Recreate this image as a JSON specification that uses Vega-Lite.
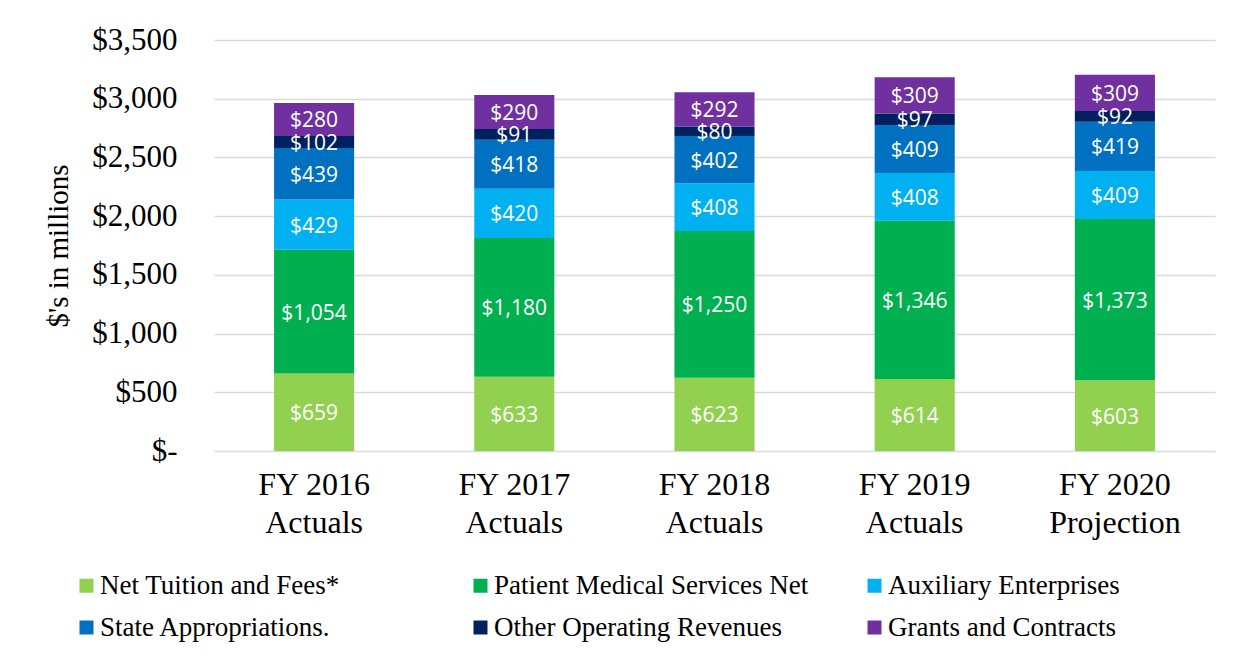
{
  "$schema": "https://vega.github.io/schema/vega-lite/v6.json",
  "autosize": "none",
  "width": 1001,
  "height": 411,
  "padding": {"left": 214, "top": 40, "right": 34, "bottom": 207},
  "background": "white",
  "config": {
    "view": {"stroke": null},
    "font": "Liberation Serif"
  },
  "data": {
    "values": [
      {"year": "FY 2016 Actuals", "series": "Net Tuition and Fees*", "idx": 1, "value": 659},
      {"year": "FY 2016 Actuals", "series": "Patient Medical Services Net", "idx": 2, "value": 1054},
      {"year": "FY 2016 Actuals", "series": "Auxiliary Enterprises", "idx": 3, "value": 429},
      {"year": "FY 2016 Actuals", "series": "State Appropriations.", "idx": 4, "value": 439},
      {"year": "FY 2016 Actuals", "series": "Other Operating Revenues", "idx": 5, "value": 102},
      {"year": "FY 2016 Actuals", "series": "Grants and Contracts", "idx": 6, "value": 280},
      {"year": "FY 2017 Actuals", "series": "Net Tuition and Fees*", "idx": 1, "value": 633},
      {"year": "FY 2017 Actuals", "series": "Patient Medical Services Net", "idx": 2, "value": 1180},
      {"year": "FY 2017 Actuals", "series": "Auxiliary Enterprises", "idx": 3, "value": 420},
      {"year": "FY 2017 Actuals", "series": "State Appropriations.", "idx": 4, "value": 418},
      {"year": "FY 2017 Actuals", "series": "Other Operating Revenues", "idx": 5, "value": 91},
      {"year": "FY 2017 Actuals", "series": "Grants and Contracts", "idx": 6, "value": 290},
      {"year": "FY 2018 Actuals", "series": "Net Tuition and Fees*", "idx": 1, "value": 623},
      {"year": "FY 2018 Actuals", "series": "Patient Medical Services Net", "idx": 2, "value": 1250},
      {"year": "FY 2018 Actuals", "series": "Auxiliary Enterprises", "idx": 3, "value": 408},
      {"year": "FY 2018 Actuals", "series": "State Appropriations.", "idx": 4, "value": 402},
      {"year": "FY 2018 Actuals", "series": "Other Operating Revenues", "idx": 5, "value": 80},
      {"year": "FY 2018 Actuals", "series": "Grants and Contracts", "idx": 6, "value": 292},
      {"year": "FY 2019 Actuals", "series": "Net Tuition and Fees*", "idx": 1, "value": 614},
      {"year": "FY 2019 Actuals", "series": "Patient Medical Services Net", "idx": 2, "value": 1346},
      {"year": "FY 2019 Actuals", "series": "Auxiliary Enterprises", "idx": 3, "value": 408},
      {"year": "FY 2019 Actuals", "series": "State Appropriations.", "idx": 4, "value": 409},
      {"year": "FY 2019 Actuals", "series": "Other Operating Revenues", "idx": 5, "value": 97},
      {"year": "FY 2019 Actuals", "series": "Grants and Contracts", "idx": 6, "value": 309},
      {"year": "FY 2020 Projection", "series": "Net Tuition and Fees*", "idx": 1, "value": 603},
      {"year": "FY 2020 Projection", "series": "Patient Medical Services Net", "idx": 2, "value": 1373},
      {"year": "FY 2020 Projection", "series": "Auxiliary Enterprises", "idx": 3, "value": 409},
      {"year": "FY 2020 Projection", "series": "State Appropriations.", "idx": 4, "value": 419},
      {"year": "FY 2020 Projection", "series": "Other Operating Revenues", "idx": 5, "value": 92},
      {"year": "FY 2020 Projection", "series": "Grants and Contracts", "idx": 6, "value": 309}
    ]
  },
  "encoding": {
    "x": {
      "field": "year",
      "type": "nominal",
      "sort": null,
      "scale": {"paddingInner": 0.6, "paddingOuter": 0.3},
      "axis": {
        "title": null,
        "domain": false,
        "ticks": false,
        "labelAngle": 0,
        "labelFont": "Liberation Serif",
        "labelFontSize": 32,
        "labelColor": "#000000",
        "labelPadding": 18,
        "labelLineHeight": 38,
        "labelBaseline": "top",
        "labelExpr": "[slice(datum.label, 0, 7), slice(datum.label, 8)]"
      }
    }
  },
  "layer": [
    {
      "mark": {"type": "bar"},
      "encoding": {
        "y": {
          "field": "value",
          "type": "quantitative",
          "stack": "zero",
          "scale": {"domain": [0, 3500]},
          "axis": {
            "title": "$'s in millions",
            "titleFont": "Liberation Serif",
            "titleFontSize": 29,
            "titleFontWeight": "normal",
            "titleColor": "#000000",
            "titlePadding": 18,
            "values": [0, 500, 1000, 1500, 2000, 2500, 3000, 3500],
            "labelExpr": "datum.value == 0 ? '$-' : '$' + format(datum.value, ',')",
            "labelFont": "Liberation Serif",
            "labelFontSize": 31,
            "labelColor": "#000000",
            "labelPadding": 37,
            "domain": false,
            "ticks": false,
            "grid": true,
            "gridColor": "#d9d9d9",
            "gridWidth": 1.5
          }
        },
        "color": {
          "field": "series",
          "type": "nominal",
          "scale": {
            "domain": ["Net Tuition and Fees*", "Patient Medical Services Net", "Auxiliary Enterprises", "State Appropriations.", "Other Operating Revenues", "Grants and Contracts"],
            "range": ["#92D050", "#00B050", "#00B0F0", "#0070C0", "#002060", "#7030A0"]
          },
          "legend": {
            "title": null,
            "orient": "none",
            "legendX": -141,
            "legendY": 532,
            "direction": "horizontal",
            "columns": 3,
            "gridAlign": "all",
            "columnPadding": 52,
            "rowPadding": 14,
            "padding": 0,
            "symbolType": "square",
            "symbolSize": 196,
            "symbolStrokeWidth": 0,
            "labelFont": "Liberation Serif",
            "labelFontSize": 27,
            "labelColor": "#000000",
            "labelOffset": 0,
            "labelLimit": 400
          }
        },
        "order": {"field": "idx", "type": "quantitative", "sort": "ascending"}
      }
    },
    {
      "transform": [
        {"stack": "value", "groupby": ["year"], "sort": [{"field": "idx", "order": "ascending"}], "as": ["v0", "v1"]},
        {"fold": ["v0", "v1"], "as": ["edgeName", "edge"]}
      ],
      "mark": {"type": "text", "color": "white", "font": "Open Sans", "fontSize": 21, "baseline": "middle", "align": "center", "dy": 2},
      "encoding": {
        "y": {"aggregate": "mean", "field": "edge", "type": "quantitative", "stack": null},
        "detail": {"field": "series", "type": "nominal"},
        "text": {"field": "value", "type": "quantitative", "format": "$,.0f"}
      }
    }
  ]
}
